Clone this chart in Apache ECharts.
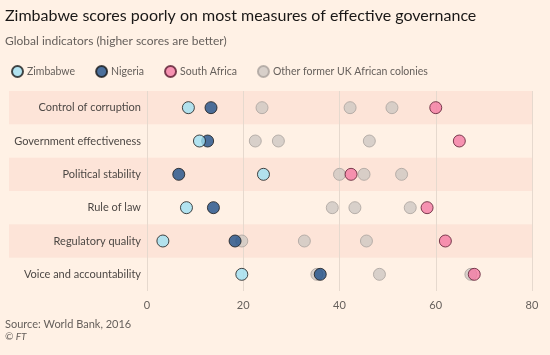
<!DOCTYPE html>
<html>
<head>
<meta charset="utf-8">
<script src="https://cdn.jsdelivr.net/npm/echarts@6/dist/echarts.min.js"></script>
<style>
html,body{margin:0;padding:0;background:#fff1e5;}
#c{width:550px;height:355px;}
</style>
</head>
<body>
<div id="c"></div>
<script>
var categories = ['Control of corruption','Government effectiveness','Political stability','Rule of law','Regulatory quality','Voice and accountability'];
var zimbabwe = [8.6, 10.9, 24.2, 8.2, 3.3, 19.7];
var nigeria = [13.3, 12.6, 6.6, 13.8, 18.3, 36.0];
var southAfrica = [60.0, 64.9, 42.4, 58.2, 62.0, 68.0];
var otherColonies = [
  [23.9, 42.2, 50.9],
  [22.5, 27.3, 46.2],
  [40.0, 45.1, 52.9],
  [38.5, 43.2, 54.7],
  [19.7, 32.7, 45.6],
  [35.3, 48.3, 67.3]
];
var xTicks = [0, 20, 40, 60, 80];

var FONT = 'Lato, "Open Sans", sans-serif';
var otherData = [];
otherColonies.forEach(function(vals, i){ vals.forEach(function(v){ otherData.push([v, categories[i]]); }); });
function pairs(arr){ return arr.map(function(v,i){ return [v, categories[i]]; }); }

var chart = echarts.init(document.getElementById('c'), null, {renderer:'canvas'});
var base = {type:'scatter', xAxisIndex:1, yAxisIndex:1, symbol:'circle', symbolSize:12};
chart.setOption({
  backgroundColor:'#fff1e5',
  animation:false,
  textStyle:{fontFamily:FONT},
  title:[
    {text:'Zimbabwe scores poorly on most measures of effective governance', left:0, top:3,
     textStyle:{fontFamily:FONT, fontSize:16, fontWeight:'normal', color:'#1a1817'}},
    {text:'Global indicators (higher scores are better)', left:0, top:30,
     textStyle:{fontFamily:FONT, fontSize:12, fontWeight:'normal', color:'#66605c'}},
    {text:'Source: World Bank, 2016', left:0, top:314,
     textStyle:{fontFamily:FONT, fontSize:11, fontWeight:'normal', color:'#66605c'}},
    {text:'© FT', left:0, top:327,
     textStyle:{fontFamily:FONT, fontSize:10, fontWeight:'normal', fontStyle:'italic', color:'#66605c'}}
  ],
  legend:{
    left:6, top:60, itemWidth:11, itemHeight:11, itemGap:20, icon:'circle',
    data:['Zimbabwe','Nigeria','South Africa','Other former UK African colonies'],
    textStyle:{fontFamily:FONT, fontSize:10.5, color:'#66605c', padding:[0,0,0,-1]}
  },
  grid:[
    {left:9, right:18, top:91, bottom:64},
    {left:147, right:18, top:91, bottom:64}
  ],
  xAxis:[
    {gridIndex:0, type:'value', min:0, max:1, show:false},
    {gridIndex:1, type:'value', min:0, max:80, interval:20,
     axisLine:{show:false}, axisTick:{show:false},
     axisLabel:{fontFamily:FONT, fontSize:11, color:'#66605c', margin:9},
     splitLine:{show:true, lineStyle:{color:'#e6d9ce', width:1}}}
  ],
  yAxis:[
    {gridIndex:0, type:'category', data:categories, inverse:true,
     axisLine:{show:false}, axisTick:{show:false}, axisLabel:{show:false},
     splitLine:{show:false},
     splitArea:{show:true, areaStyle:{color:['#fde4d8','rgba(0,0,0,0)']}}},
    {gridIndex:1, type:'category', data:categories, inverse:true,
     axisLine:{show:false}, axisTick:{show:false},
     axisLabel:{fontFamily:FONT, fontSize:11, color:'#4d4845', margin:6},
     splitLine:{show:false}}
  ],
  series:[
    Object.assign({}, base, {name:'Other former UK African colonies', data:otherData,
      itemStyle:{color:'#cec8c3', borderColor:'#aaa39e', borderWidth:1}}),
    Object.assign({}, base, {name:'Nigeria', data:pairs(nigeria),
      itemStyle:{color:'#1e4f88', borderColor:'#1a1a1a', borderWidth:1}}),
    Object.assign({}, base, {name:'Zimbabwe', data:pairs(zimbabwe),
      itemStyle:{color:'#9fe0f2', borderColor:'#1a1a1a', borderWidth:1}}),
    Object.assign({}, base, {name:'South Africa', data:pairs(southAfrica),
      itemStyle:{color:'#f47aa4', borderColor:'#5a1a30', borderWidth:1}})
  ]
});
</script>
</body>
</html>
